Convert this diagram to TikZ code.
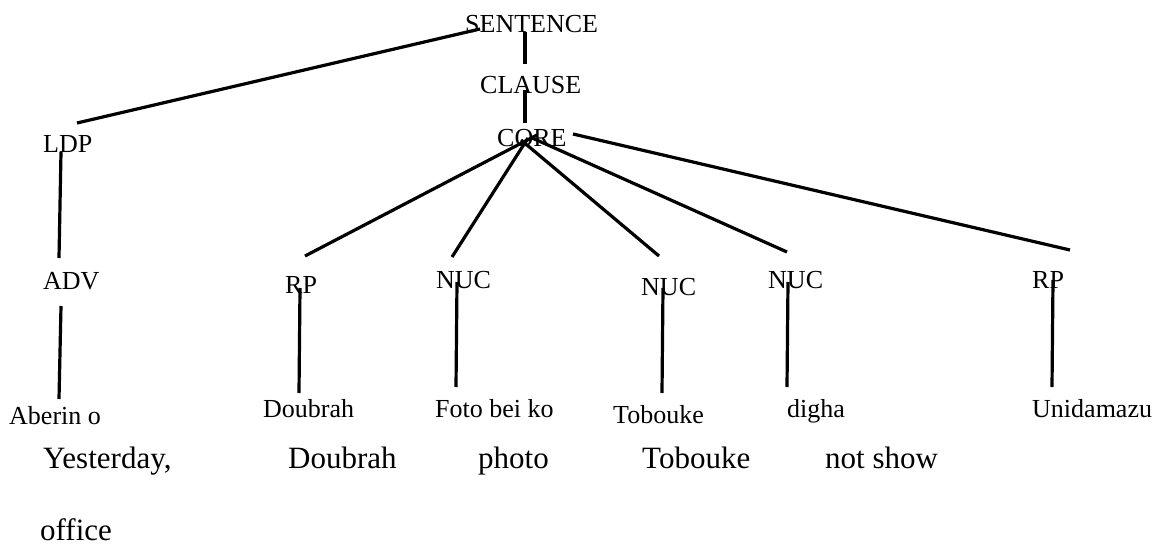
\documentclass[tikz,border=0pt]{standalone}
\usepackage{fontspec}
\setmainfont{Liberation Serif}
\begin{document}
\begin{tikzpicture}[x=1pt,y=-1pt,
  lbl/.style={anchor=base west,inner sep=0pt,font=\fontsize{26}{30}\selectfont},
  gloss/.style={anchor=base west,inner sep=0pt,font=\fontsize{31}{36}\selectfont},
  branch/.style={line width=3.2pt}]
\useasboundingbox[fill=white] (0,0) rectangle (1168,546);

% category labels
\node[lbl] (sentence) at (465,32) {SENTENCE};
\node[lbl] (clause)   at (480,93) {CLAUSE};
\node[lbl] (core)     at (497,146) {CORE};
\node[lbl] (ldp)      at (43,152) {LDP};
\node[lbl] (adv)      at (43,289) {ADV};
\node[lbl] (rpa)      at (285,293) {RP};
\node[lbl] (nuca)     at (436,288) {NUC};
\node[lbl] (nucb)     at (641,295) {NUC};
\node[lbl] (nucc)     at (768,288) {NUC};
\node[lbl] (rpb)      at (1032,288) {RP};

% Izon words
\node[lbl] (aberin)    at (9,424)    {Aberin o};
\node[lbl] (doubrah)   at (263,417)  {Doubrah};
\node[lbl] (foto)      at (435,417)  {Foto bei ko};
\node[lbl] (tobouke)   at (613,423)  {Tobouke};
\node[lbl] (digha)     at (787,417)  {digha};
\node[lbl] (unidamazu) at (1032,417) {Unidamazu};

% English glosses
\node[gloss] (g-yesterday) at (43,468)  {Yesterday,};
\node[gloss] (g-doubrah)   at (288,468) {Doubrah};
\node[gloss] (g-photo)     at (478,468) {photo};
\node[gloss] (g-tobouke)   at (642,468) {Tobouke};
\node[gloss] (g-notshow)   at (825,468) {not show};
\node[gloss] (g-office)    at (40,540)  {office};

% branch end points
\coordinate (sentence-d) at (525,32);
\coordinate (clause-u)   at (525,64);
\coordinate (clause-d)   at (525,90);
\coordinate (core-u)     at (525,123);
\coordinate (sentence-l) at (480,29);
\coordinate (ldp-u)      at (77,123);
\coordinate (ldp-d)      at (61,152);
\coordinate (adv-u)      at (59,258);
\coordinate (adv-d)      at (61,306);
\coordinate (aberin-u)   at (59,399);
\coordinate (core-a)     at (537,135);
\coordinate (core-b)     at (528,138);
\coordinate (core-c)     at (521,140);
\coordinate (core-d)     at (530,137);
\coordinate (core-e)     at (573,134);
\coordinate (rpa-u)      at (305,256);
\coordinate (nuca-u)     at (452,257);
\coordinate (nucb-u)     at (659,256);
\coordinate (nucc-u)     at (787,252);
\coordinate (rpb-u)      at (1070,250);
\coordinate (rpa-d)      at (300,288);
\coordinate (doubrah-u)  at (299,393);
\coordinate (nuca-d)     at (457,282);
\coordinate (foto-u)     at (456,387);
\coordinate (nucb-d)     at (663,288);
\coordinate (tobouke-u)  at (662,393);
\coordinate (nucc-d)     at (788,282);
\coordinate (digha-u)    at (787,387);
\coordinate (rpb-d)      at (1053,280);
\coordinate (unidamazu-u) at (1052,387);

% tree branches
\draw[branch] (sentence-d) -- (clause-u);
\draw[branch] (clause-d) -- (core-u);
\draw[branch] (sentence-l) -- (ldp-u);
\draw[branch] (ldp-d) -- (adv-u);
\draw[branch] (adv-d) -- (aberin-u);
\draw[branch] (core-a) -- (rpa-u);
\draw[branch] (core-b) -- (nuca-u);
\draw[branch] (core-c) -- (nucb-u);
\draw[branch] (core-d) -- (nucc-u);
\draw[branch] (core-e) -- (rpb-u);
\draw[branch] (rpa-d) -- (doubrah-u);
\draw[branch] (nuca-d) -- (foto-u);
\draw[branch] (nucb-d) -- (tobouke-u);
\draw[branch] (nucc-d) -- (digha-u);
\draw[branch] (rpb-d) -- (unidamazu-u);
\end{tikzpicture}
\end{document}
